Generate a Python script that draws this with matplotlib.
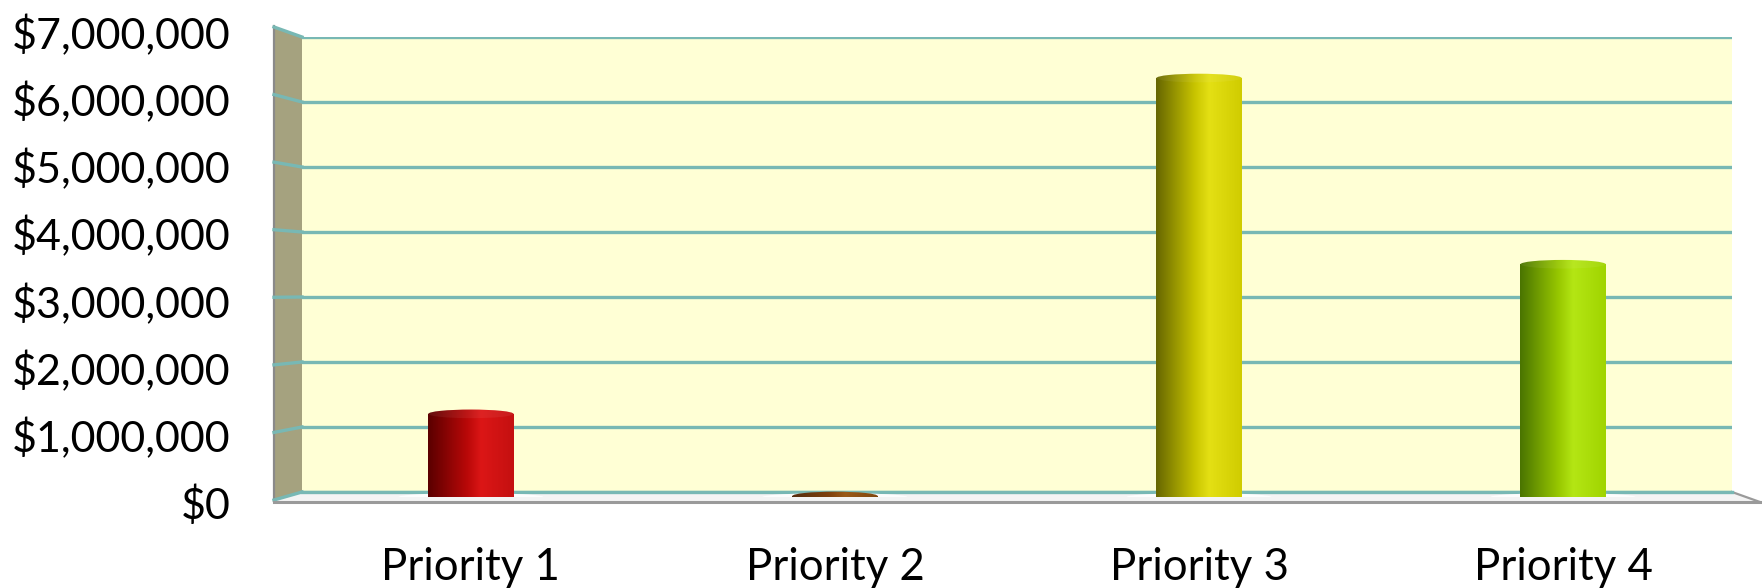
import numpy as np
import matplotlib
matplotlib.use("Agg")
import matplotlib.pyplot as plt
from matplotlib.colors import LinearSegmentedColormap
from matplotlib.patches import Polygon, Ellipse, Rectangle
from matplotlib.ticker import FuncFormatter

plt.rcParams['font.family'] = ['Lato', 'DejaVu Sans']

# data
categories = ["Priority 1", "Priority 2", "Priority 3", "Priority 4"]
amounts = [1250000, 15000, 6300000, 3500000]
y_ticks = [0, 1000000, 2000000, 3000000, 4000000, 5000000, 6000000, 7000000]

# cylinder shading: dark side, body, highlight, right edge
shades = [
    ["#5a0000", "#b80808", "#dc1616", "#c41010"],
    ["#4a2000", "#7a3800", "#94500a", "#7a3c00"],
    ["#666600", "#c8c400", "#e4e014", "#d0cc00"],
    ["#4a7400", "#98c800", "#b4e614", "#a0d400"],
]

W, H = 1762, 588
fig = plt.figure(figsize=(W / 100, H / 100), dpi=100)


def frac(x0, y_top, x1, y_bot):
    return [x0 / W, 1 - y_bot / H, (x1 - x0) / W, (y_bot - y_top) / H]


xlim = (-0.464, 3.464)
ylim = (0, 7000000)

# back wall with gridlines
ax_back = fig.add_axes(frac(302, 37, 1732, 492))
ax_back.set_facecolor("#ffffd5")
ax_back.set_xlim(*xlim)
ax_back.set_ylim(*ylim)
ax_back.set_yticks(y_ticks)
ax_back.set_xticks([])
ax_back.tick_params(left=False, labelleft=False)
ax_back.grid(axis='y', color="#78b8b4", lw=2.4)
for s in ax_back.spines.values():
    s.set_visible(False)
ax_back.set_zorder(0)

# side wall and floor (pixel space)
deco = fig.add_axes([0, 0, 1, 1])
deco.set_xlim(0, W)
deco.set_ylim(H, 0)
deco.axis('off')
deco.patch.set_alpha(0)
deco.set_zorder(1)
deco.add_patch(Polygon([(274, 27), (302, 37), (302, 492), (274, 500)],
                       closed=True, facecolor="#a5a27f", edgecolor="none"))
deco.plot([274, 274], [26, 501], color="#8a8a8a", lw=1.6)
for v in y_ticks:
    yf = 500 - v / 7000000 * 473
    yb = 492 - v / 7000000 * 455
    deco.plot([274, 302], [yf, yb], color="#78b8b4", lw=2.4)
deco.add_patch(Polygon([(274, 500), (302, 492), (1732, 492), (1760, 502), (274, 502)],
                       closed=True, facecolor="#f4f4f4", edgecolor="none"))
deco.plot([274, 1760], [502, 502], color="#9a9a9a", lw=2.2)
deco.plot([1732, 1760], [492, 502], color="#9a9a9a", lw=1.6)
deco.plot([302, 1732], [492, 492], color="#78b8b4", lw=2.4)

# cylinders
ax_bar = fig.add_axes(frac(302, 31.5, 1732, 497))
ax_bar.patch.set_alpha(0)
ax_bar.set_zorder(2)
for s in ax_bar.spines.values():
    s.set_visible(False)

bw = 0.234
eh = 130000
x = np.arange(len(categories))
bars = ax_bar.bar(x, amounts, width=bw, color="none", edgecolor="none")
grad = np.linspace(0, 1, 256).reshape(1, -1)
for i, b in enumerate(bars):
    cmap = LinearSegmentedColormap.from_list(
        "c%d" % i, [(0, shades[i][0]), (0.45, shades[i][1]),
                    (0.62, shades[i][2]), (1, shades[i][3])])
    x0 = b.get_x()
    h = b.get_height()
    xc = x0 + bw / 2
    # floor shadow
    ax_bar.add_patch(Ellipse((xc, 0), bw * 1.7, eh * 0.9,
                             facecolor="white", edgecolor="none", alpha=0.9))
    clips = [Rectangle((x0, 0), bw, h, transform=ax_bar.transData),
             Ellipse((xc, 0), bw, eh, transform=ax_bar.transData)]
    for c in clips:
        im = ax_bar.imshow(grad, cmap=cmap, aspect='auto',
                           extent=(x0, x0 + bw, -eh, h + eh), zorder=3)
        im.set_clip_path(c)
    top = Ellipse((xc, h), bw, eh, transform=ax_bar.transData)
    im = ax_bar.imshow(grad, cmap=cmap, aspect='auto',
                       extent=(x0, x0 + bw, h - eh, h + eh), zorder=4)
    im.set_clip_path(top)
    ax_bar.add_patch(Ellipse((xc, h), bw, eh, facecolor="white",
                             edgecolor="none", alpha=0.06, zorder=5))

ax_bar.set_xlim(*xlim)
ax_bar.set_ylim(*ylim)
ax_bar.set_yticks([])
ax_bar.set_xticks(x, categories)
ax_bar.tick_params(axis='x', length=0, pad=36, labelsize=31.5)

# value labels at the front plane
ax_lab = fig.add_axes(frac(274, 32, 1732, 502))
ax_lab.patch.set_alpha(0)
ax_lab.set_zorder(3)
ax_lab.set_ylim(*ylim)
ax_lab.set_yticks(y_ticks)
ax_lab.yaxis.set_major_formatter(FuncFormatter(lambda v, p: "${:,.0f}".format(v)))
ax_lab.tick_params(axis='y', length=0, pad=31, labelsize=31)
ax_lab.set_xticks([])
for s in ax_lab.spines.values():
    s.set_visible(False)

fig.savefig("out.png", dpi=100)
